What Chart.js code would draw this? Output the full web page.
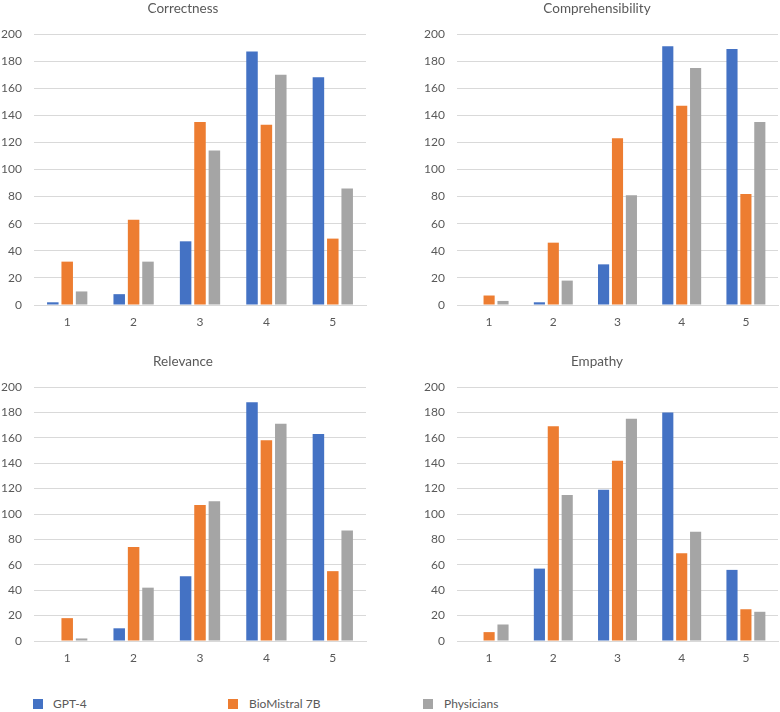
<!DOCTYPE html>
<html>
<head>
<meta charset="utf-8">
<script src="https://cdn.jsdelivr.net/npm/chart.js@4"></script>
<style>
  html, body { margin: 0; padding: 0; background: #fff; }
  body { width: 780px; height: 712px; position: relative; overflow: hidden; font-family: Lato, "Open Sans", sans-serif; }
  .panel { position: absolute; }
  .legend-item { position: absolute; top: 699px; height: 10px; display: flex; align-items: center; }
  .sw { width: 10px; height: 10px; display: inline-block; }
  .lt { position: absolute; top: 696px; font-size: 12px; color: #595959; line-height: 16px; white-space: nowrap; }
</style>
</head>
<body>
<div class="panel" style="left:0px;top:0px;width:372px;height:335px;"><canvas id="c1"></canvas></div>
<div class="panel" style="left:416px;top:0px;width:376px;height:335px;"><canvas id="c2"></canvas></div>
<div class="panel" style="left:0px;top:353px;width:372px;height:318px;"><canvas id="c3"></canvas></div>
<div class="panel" style="left:416px;top:353px;width:376px;height:318px;"><canvas id="c4"></canvas></div>

<div class="legend-item" style="left:33px;"><span class="sw" style="background:#4472C4"></span></div>
<div class="lt" style="left:53px;">GPT-4</div>
<div class="legend-item" style="left:228px;"><span class="sw" style="background:#ED7D31"></span></div>
<div class="lt" style="left:249px;">BioMistral 7B</div>
<div class="legend-item" style="left:423px;"><span class="sw" style="background:#A5A5A5"></span></div>
<div class="lt" style="left:444px;">Physicians</div>

<script>
// ---- data ----
const categories = ["1", "2", "3", "4", "5"];
const seriesNames = ["GPT-4", "BioMistral 7B", "Physicians"];

const correctnessGPT4 = [2, 8, 47, 187, 168];
const correctnessBioMistral = [32, 63, 135, 133, 49];
const correctnessPhysicians = [10, 32, 114, 170, 86];

const comprehensibilityGPT4 = [0, 2, 30, 191, 189];
const comprehensibilityBioMistral = [7, 46, 123, 147, 82];
const comprehensibilityPhysicians = [3, 18, 81, 175, 135];

const relevanceGPT4 = [0, 10, 51, 188, 163];
const relevanceBioMistral = [18, 74, 107, 158, 55];
const relevancePhysicians = [2, 42, 110, 171, 87];

const empathyGPT4 = [0, 57, 119, 180, 56];
const empathyBioMistral = [7, 169, 142, 69, 25];
const empathyPhysicians = [13, 115, 175, 86, 23];

const yTicks = [0, 20, 40, 60, 80, 100, 120, 140, 160, 180, 200];

// ---- styling ----
const colors = ["#4472C4", "#ED7D31", "#A5A5A5"];
const textColor = "#595959";
const gridColor = "#D9D9D9";
const fontFamily = "Lato, 'Open Sans', sans-serif";

function makeChart(id, title, s1, s2, s3, yAxisWidth, padRight) {
  const data = [s1, s2, s3];
  new Chart(document.getElementById(id), {
    type: "bar",
    data: {
      labels: categories,
      datasets: seriesNames.map((n, i) => ({
        label: n,
        data: data[i],
        backgroundColor: colors[i],
        borderWidth: 0,
        categoryPercentage: 0.65,
        barPercentage: 0.8
      }))
    },
    options: {
      responsive: true,
      maintainAspectRatio: false,
      animation: false,
      layout: { padding: { left: 0, right: padRight, top: 0, bottom: 0 } },
      plugins: {
        legend: { display: false },
        tooltip: { enabled: false },
        title: {
          display: true,
          text: title,
          color: textColor,
          font: { family: fontFamily, size: 13.5, weight: "normal" },
          padding: { top: 1, bottom: 16.8 }
        }
      },
      scales: {
        x: {
          grid: { display: false, drawTicks: false },
          border: { display: true, color: gridColor, width: 1 },
          ticks: { color: textColor, font: { family: fontFamily, size: 12 }, padding: 10 },
          afterFit: s => { s.height = 30; }
        },
        y: {
          min: 0,
          max: 200,
          afterBuildTicks: s => { s.ticks = yTicks.map(v => ({ value: v })); },
          grid: { color: gridColor, drawTicks: false, lineWidth: 1 },
          border: { display: false },
          ticks: { color: textColor, font: { family: fontFamily, size: 12 }, padding: 12 },
          afterFit: s => { s.width = yAxisWidth; }
        }
      }
    }
  });
}

makeChart("c1", "Correctness", correctnessGPT4, correctnessBioMistral, correctnessPhysicians, 34, 6);
makeChart("c2", "Comprehensibility", comprehensibilityGPT4, comprehensibilityBioMistral, comprehensibilityPhysicians, 41, 14);
makeChart("c3", "Relevance", relevanceGPT4, relevanceBioMistral, relevancePhysicians, 34, 6);
makeChart("c4", "Empathy", empathyGPT4, empathyBioMistral, empathyPhysicians, 41, 14);
</script>
</body>
</html>
